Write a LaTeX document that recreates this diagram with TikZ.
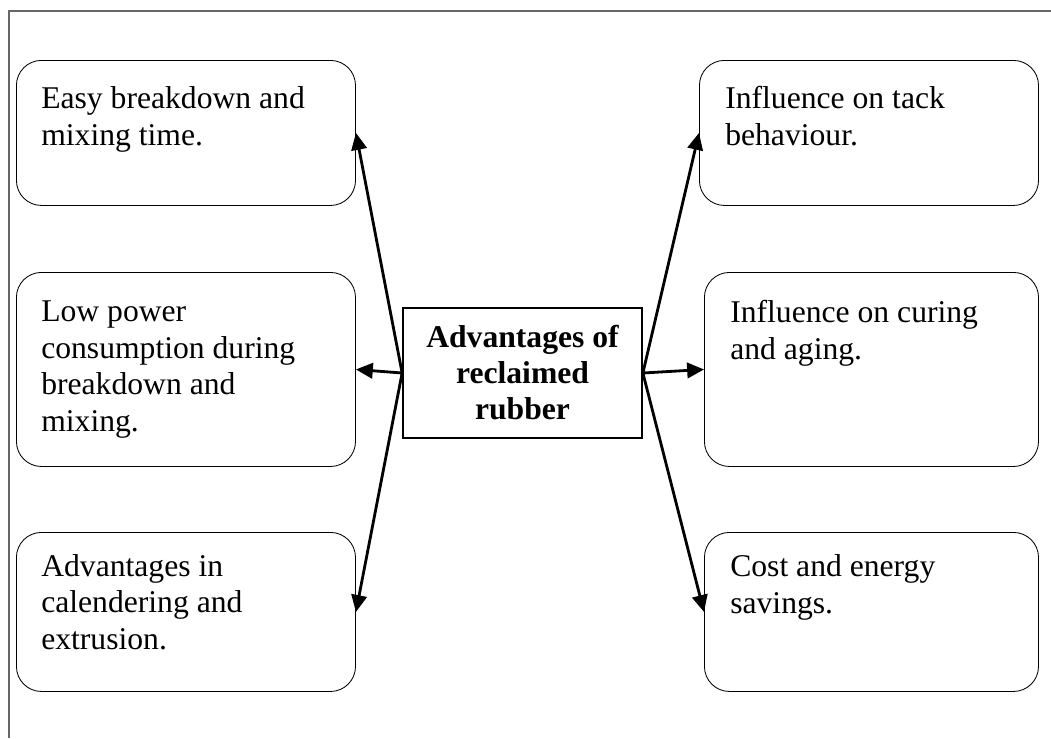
\documentclass[tikz,border=0pt]{standalone}
\usepackage{fontspec}
\setmainfont{Liberation Serif}
\usetikzlibrary{arrows.meta}

\begin{document}
\begin{tikzpicture}[x=0.025cm, y=-0.025cm,
    box/.style={draw, line width=0.6pt, rounded corners=0.625cm, anchor=north west,
                inner sep=0pt, minimum width=8.475cm},
    txt/.style={anchor=base west, inner sep=0pt, align=left,
                font=\fontsize{22.5}{25.9}\selectfont},
    arr/.style={line width=2pt, -{Triangle[length=12pt,width=11pt]}}]
      \useasboundingbox (0,0) rectangle (1051,738);
      % frame
      \draw[gray!80!black, line width=0.8pt] (9,738) -- (9,11) -- (1051,11);
      % left column
      \node[box, minimum height=3.625cm] (ease) at (16,60) {};
      \node[box, minimum height=4.85cm] (power) at (16,272) {};
      \node[box, minimum height=3.975cm] (calend) at (16,532) {};
      % right column
      \node[box, minimum height=3.625cm] (tack) at (699,60) {};
      \node[box, minimum height=4.85cm, minimum width=8.35cm] (curing) at (704,272) {};
      \node[box, minimum height=3.975cm, minimum width=8.35cm] (cost) at (704,532) {};
      % texts (base = last line)
      \node[txt] (easetxt) at ([shift={(25,85)}]ease.north west)
            {Easy breakdown and\\mixing time.};
      \node[txt] (powertxt) at ([shift={(25,159)}]power.north west)
            {Low power\\consumption during\\breakdown and\\mixing.};
      \node[txt] (calendtxt) at ([shift={(25,117)}]calend.north west)
            {Advantages in\\calendering and\\extrusion.};
      \node[txt] (tacktxt) at ([shift={(26,85)}]tack.north west)
            {Influence on tack\\behaviour.};
      \node[txt] (curingtxt) at ([shift={(26,87)}]curing.north west)
            {Influence on curing\\and aging.};
      \node[txt] (costtxt) at ([shift={(26,81)}]cost.north west)
            {Cost and energy\\savings.};
      % centre
      \node[draw, line width=1.2pt, minimum width=5.975cm, minimum height=3.25cm,
            align=center, font=\fontsize{22.5}{25.6}\selectfont\bfseries]
            (adv) at (522.5,373) {Advantages of\\reclaimed\\rubber};
      % arrows
      \draw[arr] (adv.west) -- (ease.east);
      \draw[arr] (adv.west) -- (power.east);
      \draw[arr] (adv.west) -- (calend.east);
      \draw[arr] (adv.east) -- (tack.west);
      \draw[arr] (adv.east) -- (curing.west);
      \draw[arr] (adv.east) -- (cost.west);
  \end{tikzpicture}
\end{document}
